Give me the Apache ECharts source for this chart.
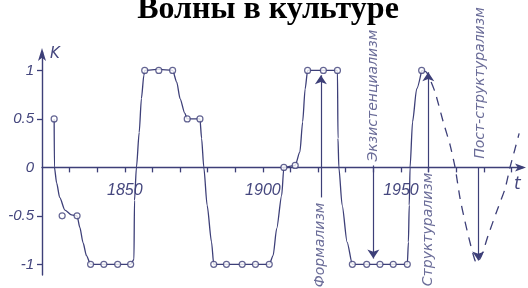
<!DOCTYPE html>
<html><head><meta charset="utf-8">
<script src="https://cdn.jsdelivr.net/npm/echarts@6/dist/echarts.min.js"></script>
<style>html,body{margin:0;padding:0;background:#fff}#c{width:528px;height:288px}</style>
</head><body><div id="c"></div>
<script>
// ---- data ----
const titleText = 'Волны в культуре';
const yTickValues = [-1, -0.5, 0, 0.5, 1];
const xLabelYears = [1850, 1900, 1950];
const xTickYears = [1830,1840,1850,1860,1870,1880,1890,1900,1910,1920,1930,1940,1950,1960,1970,1980,1990];

// solid hand-drawn curve
const curveYears = [1824.4,1824.5,1825.3,1826.4,1828.3,1830.7,1832.7,1833.7,1834.9,1836.1,1837.6,1842.4,1847.4,1852.1,1853.3,1853.5,1854.2,1855.2,1856.0,1856.9,1857.2,1862.3,1867.3,1868.8,1870.0,1871.7,1872.6,1877.2,1877.8,1878.6,1879.8,1881.4,1882.2,1886.8,1892.5,1897.3,1902.3,1903.7,1905.0,1906.8,1907.6,1911.7,1913.4,1914.4,1915.3,1916.2,1921.9,1927.0,1927.2,1927.5,1928.7,1930.5,1932.4,1937.6,1942.4,1947.2,1952.3,1952.7,1953.0,1953.3,1954.2,1955.7,1957.5];
const curveValues = [0.5,0,-0.16,-0.31,-0.44,-0.49,-0.5,-0.62,-0.78,-0.91,-1,-1,-1,-1,-0.95,-0.34,0,0.36,0.71,0.95,1,1.01,1,0.88,0.71,0.56,0.5,0.5,0.3,0,-0.39,-0.77,-1,-1,-1,-1,-1,-0.91,-0.63,-0.29,0,0.02,0.16,0.47,0.81,1,1,1,0.3,0,-0.39,-0.77,-1,-1,-1,-1,-1,-0.77,-0.39,0,0.47,0.81,1];

// open circles on the curve
const circleYears = [1824.4,1827.3,1832.7,1837.6,1842.4,1847.4,1852.1,1857.2,1862.3,1867.3,1872.6,1877.2,1882.2,1886.8,1892.5,1897.3,1902.3,1907.6,1911.7,1916.2,1921.9,1927.0,1932.4,1937.6,1942.4,1947.2,1952.3,1957.5];
const circleValues = [0.5,-0.5,-0.5,-1,-1,-1,-1,1,1,1,0.5,0.5,-1,-1,-1,-1,-1,0,0.02,1,1,1,-1,-1,-1,-1,-1,1];

// dashed forecast curve
const dashYears = [1957.5,1959.3,1962.3,1965.3,1967.8,1969.6,1971.4,1973.2,1975.6,1977.4,1979.2,1981.6,1984.6,1987.7,1989.5,1991.3,1992.8];
const dashValues = [1,0.98,0.78,0.47,0.23,0,-0.32,-0.56,-0.84,-0.99,-0.91,-0.7,-0.46,-0.22,0,0.19,0.35];

// annotation arrows and vertical labels
const arrowYears = [1921.0, 1940.0, 1959.9, 1978.0];
const arrowFrom = [-0.31, 0.02, -0.05, 0.0];
const arrowTo = [0.95, -0.94, 0.98, -0.96];
const noteTexts = ['Формализм', 'Экзистенциализм', 'Структурализм', 'Пост-структурализм'];
const noteYears = [1920.7, 1939.9, 1960.0, 1978.6];
const noteValues = [-0.8, 0.74, -0.64, 0.87];

// ---- chart ----
const ink = '#3d3f78';
const textInk = '#45477e';
const yMin = -1.11, yMax = 1.19;
const gridTop = 52, gridBottom = 13, chartH = 288;
// put the x axis (line, ticks and labels) at value 0
const zeroOffset = -((chartH - gridTop - gridBottom) * (0 - yMin) / (yMax - yMin));

const chart = echarts.init(document.getElementById('c'), null, {renderer: 'canvas'});
chart.setOption({
  animation: false,
  backgroundColor: '#ffffff',
  title: {
    text: titleText, left: 263, top: -11, textAlign: 'center',
    textStyle: {fontFamily: 'Liberation Serif', fontWeight: 'bold', fontSize: 32, color: '#000'}
  },
  graphic: [
    {type: 'text', left: 50, top: 47, style: {text: 'K', font: 'italic 15px "DejaVu Sans"', fill: textInk}},
    {type: 'text', left: 514, top: 176, style: {text: 't', font: 'italic 17px "DejaVu Sans"', fill: textInk}}
  ],
  grid: {left: 42, right: 5, top: gridTop, bottom: gridBottom, containLabel: false, outerBoundsMode: 'none'},
  xAxis: {
    type: 'value', min: 1820, max: 1994.2, interval: 10, position: 'bottom', offset: zeroOffset,
    splitLine: {show: false},
    axisLine: {onZero: false, lineStyle: {color: ink, width: 1.4}, symbol: ['none', 'arrow'], symbolSize: [6, 11], symbolOffset: [0, 3]},
    axisTick: {show: true, length: 5, customValues: xTickYears, lineStyle: {color: ink, width: 1.3}},
    axisLabel: {customValues: xLabelYears, margin: 15, color: textInk, fontStyle: 'italic',
      fontFamily: '"Liberation Sans Narrow", "Liberation Sans"', fontSize: 16,
      formatter: v => String(v)}
  },
  yAxis: {
    type: 'value', min: yMin, max: yMax,
    splitLine: {show: false},
    axisLine: {lineStyle: {color: ink, width: 1.4}, symbol: ['none', 'arrow'], symbolSize: [6, 13], symbolOffset: [0, 4]},
    axisTick: {show: true, length: 5, customValues: [-1, -0.5, 0.5, 1], lineStyle: {color: ink, width: 1.3}},
    axisLabel: {customValues: yTickValues, margin: 8, color: textInk, fontStyle: 'italic',
      fontFamily: '"Liberation Sans Narrow", "Liberation Sans"', fontSize: 15,
      formatter: v => String(v)}
  },
  series: [
    {
      type: 'line', data: curveYears.map((x, i) => [x, curveValues[i]]),
      showSymbol: false, smooth: 0.25, smoothMonotone: 'x',
      lineStyle: {color: ink, width: 1.3}, silent: true, z: 3
    },
    {
      type: 'line', data: dashYears.map((x, i) => [x, dashValues[i]]),
      showSymbol: false, smooth: 0.2,
      lineStyle: {color: ink, width: 1.3, type: [9, 7]}, silent: true, z: 3
    },
    {
      type: 'scatter', data: circleYears.map((x, i) => [x, circleValues[i]]),
      symbol: 'circle', symbolSize: 6,
      itemStyle: {color: '#ffffff', borderColor: ink, borderWidth: 1.2}, silent: true, z: 4
    },
    {
      type: 'line', data: [], silent: true,
      markLine: {
        silent: true, symbol: ['none', 'arrow'], symbolSize: 9,
        label: {show: false},
        lineStyle: {color: ink, width: 1.2, type: 'solid'},
        data: arrowYears.map((x, i) => [{coord: [x, arrowFrom[i]]}, {coord: [x, arrowTo[i]]}])
      }
    },
    {
      type: 'scatter', data: noteYears.map((x, i) => [x, noteValues[i], noteTexts[i]]),
      symbolSize: 1, itemStyle: {color: 'rgba(0,0,0,0)'}, silent: true, z: 5,
      label: {show: true, position: 'inside', rotate: 90, formatter: p => p.data[2],
        color: textInk, fontStyle: 'italic', fontFamily: '"DejaVu Sans"', fontSize: 14,
        align: 'center', verticalAlign: 'middle'}
    }
  ]
});
</script></body></html>
